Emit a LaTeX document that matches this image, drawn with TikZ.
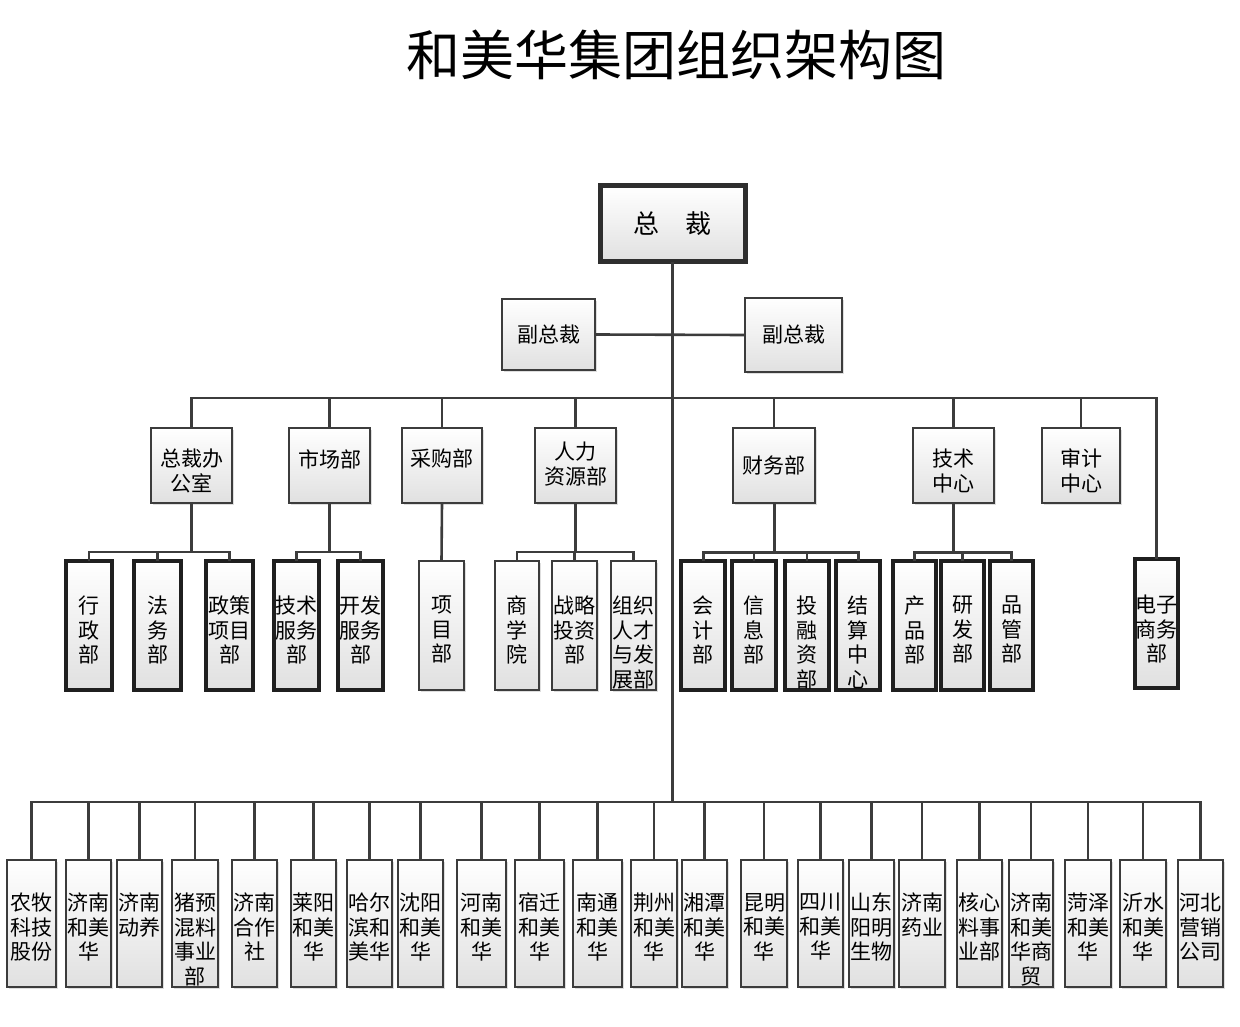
\documentclass[tikz,border=0pt]{standalone}
\usepackage{fontspec}
\setmainfont{Noto Sans CJK SC}
\usetikzlibrary{shadows}
\definecolor{linec}{HTML}{3C3C3C}
\tikzset{
  obox/.style={draw=linec, line width=2.6, top color=white, bottom color=black!12, inner sep=0pt, outer sep=0pt,
    drop shadow={shadow xshift=1.5pt, shadow yshift=-1.5pt, fill=black!25, opacity=0.5}},
  tbox/.style={obox, draw=black!88, line width=3.2},
  otxt/.style={inner sep=0pt, align=center, font=\fontsize{21}{24.5}\selectfont},
  conn/.style={draw=linec, line width=2.6},
}
% name, x1, x2, y1, y2, text offset, text, style
\newcommand\mk[8]{%
  \node[#8, minimum width={#3-#2}, minimum height={#5-#4}] (#1) at ({(#2+#3)/2},{(#4+#5)/2}) {};
  \node[otxt, anchor=north] (#1t) at ([yshift=-#6]#1.north) {#7};}
\begin{document}
\begin{tikzpicture}[x=1pt, y=-1pt]
\useasboundingbox (0,0) rectangle (1240,1027);
\fill[white] (0,0) rectangle (1240,1027);

\node[inner sep=0pt, font=\fontsize{54}{60}\selectfont] (title) at (676,55) {和美华集团组织架构图};

% coordinates of buses
\coordinate (busA) at (672,398);
\coordinate (sbus) at (672,552);
\coordinate (busB) at (672,802);

% CEO
\node[obox, draw=black!82, line width=5, minimum width=145, minimum height=76] (ceo) at (672.5,224) {};
\node[inner sep=0pt, font=\fontsize{26}{30}\selectfont] (ceot) at (ceo.center) {总\hspace{1em}裁};

% vice presidents
\node[obox, minimum width=93, minimum height=71] (vp1) at (548.5,334.5) {};
\node[otxt] (vp1t) at (vp1.center) {副总裁};
\node[obox, minimum width=97, minimum height=74] (vp2) at (793.5,335) {};
\node[otxt] (vp2t) at (vp2.center) {副总裁};

% level 1
\mk{zcb}{151}{232}{428}{503}{21}{总裁办\\公室}{obox}
\mk{scb}{289}{370}{428}{503}{21}{市场部}{obox}
\mk{cgb}{402}{482}{428}{503}{21}{采购部}{obox}
\mk{rlb}{535}{616}{428}{503}{14}{人力\\资源部}{obox}
\mk{cwb}{733}{815}{428}{503}{28}{财务部}{obox}
\mk{jsz}{913}{994}{428}{503}{21}{技术\\中心}{obox}
\mk{sjz}{1042}{1120}{428}{503}{21}{审计\\中心}{obox}

% level 2
\mk{xz}{66}{112}{561}{690}{35}{行\\政\\部}{tbox}
\mk{fw}{134}{181}{561}{690}{35}{法\\务\\部}{tbox}
\mk{zc}{206}{253}{561}{690}{35}{政策\\项目\\部}{tbox}
\mk{jf}{274}{319}{561}{690}{35}{技术\\服务\\部}{tbox}
\mk{kf}{338}{383}{561}{690}{35}{开发\\服务\\部}{tbox}
\mk{xm}{419}{464}{561}{690}{35}{项\\目\\部}{obox}
\mk{sx}{495}{539}{561}{690}{35}{商\\学\\院}{obox}
\mk{zl}{552}{597}{561}{690}{35}{战略\\投资\\部}{obox}
\mk{zz}{611}{656}{561}{690}{35}{组织\\人才\\与发\\展部}{obox}
\mk{kj}{681}{725}{561}{690}{35}{会\\计\\部}{tbox}
\mk{xx}{732}{776}{561}{690}{35}{信\\息\\部}{tbox}
\mk{tr}{785}{829}{561}{690}{35}{投\\融\\资\\部}{tbox}
\mk{js}{836}{880}{561}{690}{35}{结\\算\\中\\心}{tbox}
\mk{cp}{893}{936}{561}{690}{35}{产\\品\\部}{tbox}
\mk{yf}{941}{984}{561}{690}{35}{研\\发\\部}{tbox}
\mk{pg}{990}{1033}{561}{690}{35}{品\\管\\部}{tbox}
\mk{dz}{1135}{1178}{559}{688}{36}{电子\\商务\\部}{tbox}

% bottom row
\mk{n1}{7}{56}{860}{987}{33}{农牧\\科技\\股份}{obox}
\mk{n2}{66}{111}{860}{987}{33}{济南\\和美\\华}{obox}
\mk{n3}{117}{162}{860}{987}{33}{济南\\动养}{obox}
\mk{n4}{172}{218}{860}{987}{33}{猪预\\混料\\事业\\部}{obox}
\mk{n5}{232}{277}{860}{987}{33}{济南\\合作\\社}{obox}
\mk{n6}{291}{336}{860}{987}{33}{莱阳\\和美\\华}{obox}
\mk{n7}{347}{392}{860}{987}{33}{哈尔\\滨和\\美华}{obox}
\mk{n8}{398}{443}{860}{987}{33}{沈阳\\和美\\华}{obox}
\mk{n9}{457}{506}{860}{987}{33}{河南\\和美\\华}{obox}
\mk{n10}{515}{564}{860}{987}{33}{宿迁\\和美\\华}{obox}
\mk{n11}{573}{622}{860}{987}{33}{南通\\和美\\华}{obox}
\mk{n12}{631}{677}{860}{987}{33}{荆州\\和美\\华}{obox}
\mk{n13}{682}{727}{860}{987}{33}{湘潭\\和美\\华}{obox}
\mk{n14}{741}{787}{860}{987}{33}{昆明\\和美\\华}{obox}
\mk{n15}{798}{843}{860}{987}{33}{四川\\和美\\华}{obox}
\mk{n16}{849}{894}{860}{987}{33}{山东\\阳明\\生物}{obox}
\mk{n17}{899}{945}{860}{987}{33}{济南\\药业}{obox}
\mk{n18}{957}{1002}{860}{987}{33}{核心\\料事\\业部}{obox}
\mk{n19}{1009}{1053}{860}{987}{33}{济南\\和美\\华商\\贸}{obox}
\mk{n20}{1065}{1111}{860}{987}{33}{菏泽\\和美\\华}{obox}
\mk{n21}{1120}{1166}{860}{987}{33}{沂水\\和美\\华}{obox}
\mk{n22}{1178}{1223}{860}{987}{33}{河北\\营销\\公司}{obox}

% connectors
\draw[conn, line width=3] (ceo.south) -- (ceo.south |- busB);
\draw[conn] (vp1.east) -- (vp2.west);
\draw[conn] (zcb.north) -- (zcb.north |- busA) -- (dz.north |- busA) -- (dz.north);
\foreach \b in {scb,cgb,rlb,cwb,jsz,sjz} \draw[conn] (\b.north) -- (\b.north |- busA);

\draw[conn] (zcb.south) -- (zcb.south |- sbus);
\draw[conn] (xz.north) -- (xz.north |- sbus) -- (zc.north |- sbus) -- (zc.north);
\draw[conn] (fw.north) -- (fw.north |- sbus);
\draw[conn] (scb.south) -- (scb.south |- sbus);
\draw[conn] (jf.north) -- (jf.north |- sbus) -- (kf.north |- sbus) -- (kf.north);
\draw[conn] (cgb.south) -- (xm.north);
\draw[conn] (rlb.south) -- (rlb.south |- sbus);
\draw[conn] (sx.north) -- (sx.north |- sbus) -- (zz.north |- sbus) -- (zz.north);
\draw[conn] (zl.north) -- (zl.north |- sbus);
\draw[conn, line width=3] (cwb.south) -- (cwb.south |- sbus);
\draw[conn, line width=3] (kj.north) -- (kj.north |- sbus) -- (js.north |- sbus) -- (js.north);
\draw[conn] (xx.north) -- (xx.north |- sbus);
\draw[conn] (tr.north) -- (tr.north |- sbus);
\draw[conn, line width=3] (jsz.south) -- (jsz.south |- sbus);
\draw[conn, line width=3] (cp.north) -- (cp.north |- sbus) -- (pg.north |- sbus) -- (pg.north);
\draw[conn] (yf.north) -- (yf.north |- sbus);

\draw[conn] (n1.north) -- (n1.north |- busB) -- (n22.north |- busB) -- (n22.north);
\foreach \b in {n2,n3,n4,n5,n6,n7,n8,n9,n10,n11,n12,n13,n14,n15,n16,n17,n18,n19,n20,n21}
  \draw[conn] (\b.north) -- (\b.north |- busB);
\end{tikzpicture}
\end{document}
